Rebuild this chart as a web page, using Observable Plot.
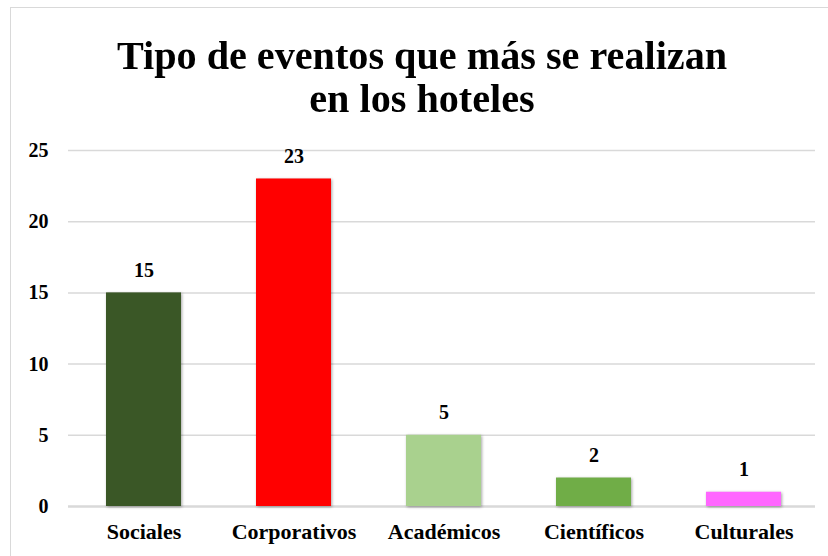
<!DOCTYPE html>
<html>
<head>
<meta charset="utf-8">
<script src="https://cdn.jsdelivr.net/npm/d3@7"></script>
<script src="https://cdn.jsdelivr.net/npm/@observablehq/plot@0.6"></script>
<style>
  html, body { margin: 0; padding: 0; background: #fff; }
  #wrap { position: relative; width: 828px; height: 556px; overflow: hidden; background: #fff; }
  #frame { position: absolute; left: 10px; top: 7px; width: 900px; height: 700px; border-left: 1.5px solid #d9d9d9; border-top: 1.5px solid #d9d9d9; box-sizing: border-box; }
  #title { position: absolute; left: 8px; top: 34px; width: 828px; text-align: center; font-family: "Liberation Serif", "Times New Roman", serif; font-weight: bold; font-size: 41px; line-height: 43px; color: #000; transform: scaleX(0.98); transform-origin: 414px 0; }
  #chart { position: absolute; left: 0; top: 130px; }
</style>
</head>
<body>
<div id="wrap">
  <div id="frame"></div>
  <div id="title">Tipo de eventos que más se realizan<br>en los hoteles</div>
  <div id="chart"></div>
</div>
<script>
const categories = ["Sociales", "Corporativos", "Académicos", "Científicos", "Culturales"];
const values = [15, 23, 5, 2, 1];
const colors = ["#3A5726", "#FF0000", "#A9D18E", "#70AD47", "#FF66FF"];
const yTicks = [0, 5, 10, 15, 20, 25];

const data = categories.map((c, i) => ({category: c, value: values[i], color: colors[i]}));
const font = "'Liberation Serif', 'Times New Roman', serif";

const chart = Plot.plot({
  width: 828,
  height: 426,
  marginLeft: 68,
  marginRight: 13,
  marginTop: 20,
  marginBottom: 50,
  style: { fontFamily: font, fontWeight: "bold", color: "#000", background: "transparent" },
  x: { domain: categories, range: [68, 818], paddingInner: 0.5, paddingOuter: 0.25, label: null },
  y: { domain: [0, 25], ticks: yTicks, label: null },
  marks: [
    Plot.ruleY(yTicks.filter(d => d > 0), { stroke: "#d9d9d9", strokeWidth: 1.5 }),
    Plot.ruleY([0], { stroke: "#d9d9d9", strokeWidth: 2.5 }),
    Plot.barY(data, { x: "category", y: "value", fill: "color" }),
    Plot.axisY({ ticks: yTicks, tickSize: 0, tickPadding: 20, fontSize: 20, fontWeight: "bold", label: null }),
    Plot.axisX({ tickSize: 0, tickPadding: 17, fontSize: 22, fontWeight: "bold", label: null }),
    Plot.text(data, { x: "category", y: "value", text: d => String(d.value), lineAnchor: "bottom", dy: -16, fontSize: 20, fontWeight: "bold", fill: "#000" })
  ]
});
d3.select(chart).selectAll("g[aria-label='bar'] rect").style("filter", "drop-shadow(1.5px 1.5px 1.5px rgba(0,0,0,0.35))");
document.getElementById("chart").appendChild(chart);
</script>
</body>
</html>
